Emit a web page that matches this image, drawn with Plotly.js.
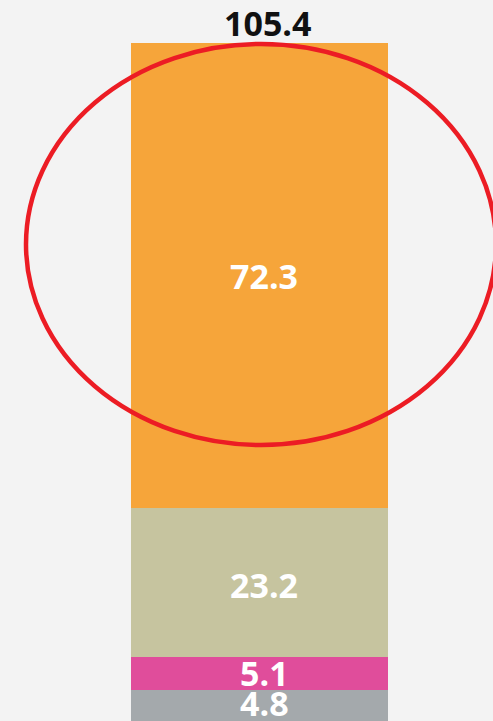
<!DOCTYPE html>
<html>
<head>
<meta charset="utf-8">
<script src="https://cdn.plot.ly/plotly-3.0.1.min.js"></script>
<style>
html,body{margin:0;padding:0;background:#f3f3f3;}
#chart{width:493px;height:721px;}
</style>
</head>
<body>
<div id="chart"></div>
<script>
// Data (bottom to top)
const segmentNames = ["Gray", "Pink", "Khaki", "Orange"];
const segmentValues = [4.8, 5.1, 23.2, 72.3];
const segmentColors = ["#a4a9ac", "#e04d9b", "#c6c49f", "#f6a53a"];
const category = [0];
const totalValue = 105.4;

const traces = segmentValues.map((v, i) => ({
  type: "bar",
  x: category,
  y: [v],
  width: 1,
  name: segmentNames[i],
  marker: {color: segmentColors[i], line: {width: 0}},
  hoverinfo: "skip"
}));

const labelShiftY = [3, 1, -2, 0];
const annotations = [];
let cum = 0;
segmentValues.forEach((v, i) => {
  annotations.push({
    x: 0, y: cum + v / 2, xref: "x", yref: "y",
    text: v.toFixed(1), showarrow: false, xshift: 5, yshift: labelShiftY[i],
    font: {family: "Open Sans, sans-serif", size: 34, color: "#ffffff", weight: 700},
    yanchor: "middle"
  });
  cum += v;
});
annotations.push({
  x: 0, y: totalValue, xref: "x", yref: "y",
  text: totalValue.toFixed(1), showarrow: false, xshift: 8,
  yanchor: "bottom", yshift: -5,
  font: {family: "Open Sans, sans-serif", size: 34, color: "#111111", weight: 700}
});

const layout = {
  width: 493, height: 721,
  barmode: "stack",
  showlegend: false,
  paper_bgcolor: "#f3f3f3",
  plot_bgcolor: "#f3f3f3",
  margin: {l: 0, r: 0, t: 43, b: 0, pad: 0},
  xaxis: {range: [-1.0097, 0.9086], visible: false, fixedrange: true},
  yaxis: {range: [0, totalValue], visible: false, fixedrange: true},
  annotations: annotations,
  shapes: [{
    type: "circle", xref: "paper", yref: "paper",
    x0: 26 / 493, x1: 496 / 493,
    y0: (721 - 445) / 678, y1: (721 - 44) / 678,
    line: {color: "#ec1c24", width: 4.5},
    fillcolor: "rgba(0,0,0,0)",
    layer: "above"
  }]
};

Plotly.newPlot("chart", traces, layout, {displayModeBar: false, staticPlot: true});
</script>
</body>
</html>
